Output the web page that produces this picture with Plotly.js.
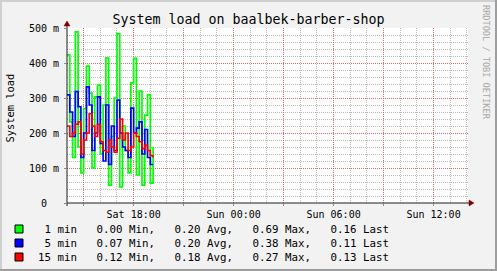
<!DOCTYPE html>
<html>
<head>
<meta charset="utf-8">
<script src="https://cdn.plot.ly/plotly-3.0.1.min.js"></script>
<style>
html,body{margin:0;padding:0;background:#f2f2f2;}
#wrap{position:relative;width:497px;height:271px;overflow:hidden;}
#chart{position:absolute;left:0;top:0;width:497px;height:271px;}
.b{position:absolute;pointer-events:none;}
</style>
</head>
<body>
<div id="wrap">
<div id="chart"></div>
<div class="b" style="left:0;top:0;width:497px;height:2px;background:#cfcfcf;"></div>
<div class="b" style="left:0;top:0;width:2px;height:271px;background:#cfcfcf;"></div>
<div class="b" style="left:0;top:269px;width:497px;height:2px;background:#9e9e9e;"></div>
<div class="b" style="left:495px;top:0;width:2px;height:271px;background:#9e9e9e;"></div>
</div>
<script>
// ---- data ----
var times = ["2024-03-02 14:00","2024-03-02 14:10","2024-03-02 14:20","2024-03-02 14:30","2024-03-02 14:40","2024-03-02 14:50",
 "2024-03-02 15:00","2024-03-02 15:10","2024-03-02 15:20","2024-03-02 15:30","2024-03-02 15:40","2024-03-02 15:50",
 "2024-03-02 16:00","2024-03-02 16:10","2024-03-02 16:20","2024-03-02 16:30","2024-03-02 16:40","2024-03-02 16:50",
 "2024-03-02 17:00","2024-03-02 17:10","2024-03-02 17:20","2024-03-02 17:30","2024-03-02 17:40","2024-03-02 17:50",
 "2024-03-02 18:00","2024-03-02 18:10","2024-03-02 18:20","2024-03-02 18:30","2024-03-02 18:40","2024-03-02 18:50",
 "2024-03-02 19:00","2024-03-02 19:10"];
var load1 = [0.423,0.232,0.130,0.489,0.160,0.086,0.270,0.391,0.314,0.100,0.303,0.337,0.140,0.280,0.414,0.051,0.190,0.300,0.483,0.046,0.220,0.150,0.086,0.343,0.413,0.080,0.320,0.051,0.251,0.309,0.057,0.160];
var load5 = [0.309,0.260,0.190,0.318,0.275,0.130,0.200,0.332,0.280,0.150,0.200,0.303,0.170,0.120,0.280,0.110,0.220,0.150,0.294,0.200,0.160,0.150,0.130,0.271,0.200,0.214,0.232,0.140,0.210,0.130,0.110,0.110];
var load15 = [0.220,0.190,0.200,0.225,0.232,0.140,0.180,0.200,0.255,0.220,0.190,0.225,0.175,0.150,0.145,0.180,0.160,0.145,0.185,0.240,0.180,0.200,0.150,0.160,0.200,0.190,0.175,0.155,0.165,0.150,0.135,0.130];

var seriesNames = [" 1 min", " 5 min", "15 min"];
var seriesColors = ["#00ff00", "#0000ff", "#ff0000"];
var statMin = ["0.00", "0.07", "0.12"];
var statAvg = ["0.20", "0.20", "0.18"];
var statMax = ["0.69", "0.38", "0.27"];
var statLast = ["0.16", "0.11", "0.13"];

var xTickVals = ["2024-03-02 15:00","2024-03-02 18:00","2024-03-02 21:00","2024-03-03 00:00","2024-03-03 03:00","2024-03-03 06:00","2024-03-03 09:00","2024-03-03 12:00"];
var xTickText = ["","Sat 18:00","","Sun 00:00","","Sun 06:00","","Sun 12:00"];
var yTickVals = [0, 0.1, 0.2, 0.3, 0.4, 0.5];
var yTickText = ["0\u00a0\u00a0", "100 m", "200 m", "300 m", "400 m", "500 m"];

// ---- geometry helpers (pixel -> paper) ----
var L = 67, R = 468, T = 28, B = 203;
function px(p){ return (p - L) / (R - L); }
function py(p){ return (B - p) / (B - T); }

var MONO = "DejaVu Sans Mono";
var series = [load1, load5, load15];
var traces = series.map(function(s, i){
  return {x: times, y: s, type: "scatter", mode: "lines", line: {shape: "hv", color: seriesColors[i], width: 1.7}, hoverinfo: "skip", showlegend: false};
});

var annotations = [];
var shapes = [];
var rowY = [229, 243, 257];
for (var i = 0; i < 3; i++) {
  var txt = seriesNames[i] + "   " + statMin[i] + " Min,   " + statAvg[i] + " Avg,   " + statMax[i] + " Max,   " + statLast[i] + " Last";
  annotations.push({xref: "paper", yref: "paper", x: px(38), y: py(rowY[i]), xanchor: "left", yanchor: "middle",
    text: txt.replace(/ /g, "\u00a0"), showarrow: false, borderpad: 0, borderwidth: 0,
    font: {family: MONO, size: 10.8, color: "#000"}});
  shapes.push({type: "rect", xref: "paper", yref: "paper", x0: px(15), x1: px(23), y0: py(rowY[i] - 4), y1: py(rowY[i] + 4),
    fillcolor: seriesColors[i], line: {color: "#000", width: 1}, layer: "above"});
}
annotations.push({xref: "paper", yref: "paper", x: px(9.5), y: py(108), xanchor: "center", yanchor: "middle", textangle: -90,
  text: "System load", showarrow: false, font: {family: MONO, size: 10.4, color: "#000"}});
annotations.push({xref: "paper", yref: "paper", x: px(486.5), y: py(62.5), xanchor: "center", yanchor: "middle", textangle: 90,
  text: "RRDTOOL / TOBI OETIKER", showarrow: false, font: {family: MONO, size: 8.6, color: "#a8a8a8"}});

// axis lines with arrows
shapes.push({type: "line", xref: "paper", yref: "paper", x0: px(67), x1: px(470), y0: 0, y1: 0, line: {color: "#1f1f1f", width: 1}, layer: "above"});
shapes.push({type: "line", xref: "paper", yref: "paper", x0: 0, x1: 0, y0: py(206), y1: py(25), line: {color: "#1f1f1f", width: 1}, layer: "above"});
shapes.push({type: "path", xref: "paper", yref: "paper", path: "M " + px(469) + " " + py(200) + " L " + px(474) + " " + py(203) + " L " + px(469) + " " + py(206) + " Z",
  fillcolor: "#800000", line: {color: "#800000", width: 0.5}, layer: "above"});
shapes.push({type: "path", xref: "paper", yref: "paper", path: "M " + px(64) + " " + py(26) + " L " + px(67) + " " + py(21) + " L " + px(70) + " " + py(26) + " Z",
  fillcolor: "#800000", line: {color: "#800000", width: 0.5}, layer: "above"});

var layout = {
  width: 497, height: 271,
  margin: {l: L, r: 497 - R, t: T, b: 271 - B, pad: 0},
  paper_bgcolor: "#f2f2f2", plot_bgcolor: "#ffffff",
  showlegend: false,
  title: {text: "System load on baalbek-barber-shop", font: {family: MONO, size: 13.3, color: "#000"},
    xref: "container", x: 0.5, xanchor: "center", yref: "container", y: 1 - 19 / 271, yanchor: "middle"},
  xaxis: {type: "date", range: ["2024-03-02 14:00", "2024-03-03 14:04"], tickmode: "array", tickvals: xTickVals, ticktext: xTickText,
    showgrid: true, gridcolor: "rgba(222,80,80,0.75)", griddash: "1px,1px", gridwidth: 1, zeroline: false, showline: false,
    ticks: "outside", ticklen: 2, tickcolor: "#888", tickfont: {family: MONO, size: 10, color: "#000"},
    minor: {dtick: 3600000, tick0: "2024-03-02 00:00", showgrid: true, gridcolor: "rgba(140,140,140,0.6)", griddash: "1px,1px", gridwidth: 1, ticks: ""},
    fixedrange: true},
  yaxis: {range: [0, 0.5], tickmode: "array", tickvals: yTickVals, ticktext: yTickText,
    showgrid: true, gridcolor: "rgba(222,80,80,0.75)", griddash: "1px,1px", gridwidth: 1, zeroline: false, showline: false,
    ticks: "outside", ticklen: 2, tickcolor: "#888", ticklabelstandoff: 3, tickfont: {family: MONO, size: 10, color: "#000"},
    minor: {dtick: 0.02, tick0: 0, showgrid: true, gridcolor: "rgba(140,140,140,0.6)", griddash: "1px,1px", gridwidth: 1, ticks: ""},
    fixedrange: true},
  annotations: annotations,
  shapes: shapes
};
Plotly.newPlot("chart", traces, layout, {staticPlot: true, displayModeBar: false});
</script>
</body>
</html>
